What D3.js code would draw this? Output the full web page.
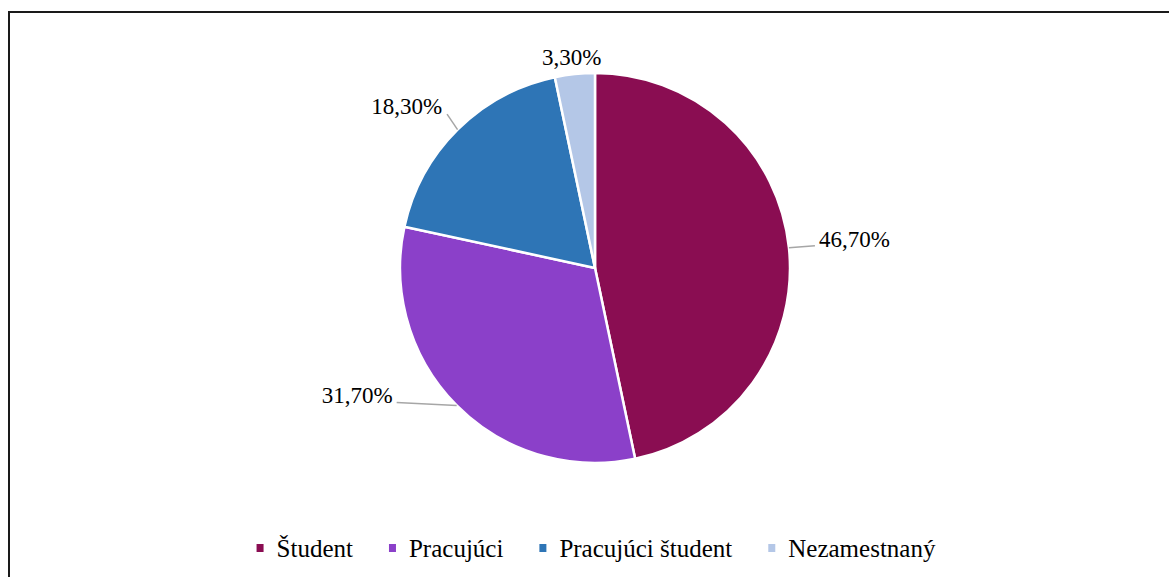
<!DOCTYPE html>
<html>
<head>
<meta charset="utf-8">
<script src="https://cdn.jsdelivr.net/npm/d3@7"></script>
<style>
  html, body { margin: 0; padding: 0; background: #fff; }
  svg { display: block; }
</style>
</head>
<body>
<div id="chart"></div>
<script>
var w = 1169,
	h = 577;

// data
var categories = ["Študent", "Pracujúci", "Pracujúci študent", "Nezamestnaný"];
var values = [46.7, 31.7, 18.3, 3.3];
var labels = ["46,70%", "31,70%", "18,30%", "3,30%"];
var colors = ["#8a0d52", "#8b40c9", "#2e75b6", "#b4c7e7"];

// label placement (offset of leader end from slice edge, text offset from leader end)
var leaderOffsets = [[26, -2], [-60, -3], [-10.5, -15.5], [0, 0]];
var textOffsets = [[4, 1], [-4, 1], [-5, 0], [-3, -9]];
var textAnchors = ["start", "end", "end", "middle"];
var showLeader = [true, true, true, false];

var fontFamily = "Liberation Serif, DejaVu Serif, Noto Serif, Tinos, FreeSerif, Times, serif";

var cx = 595,
	cy = 268,
	radius = 195;

var svg = d3.select("#chart").append("svg")
	.attr("width", w)
	.attr("height", h)
	.style("font-family", fontFamily);

// outer frame (only top and left edges visible in the crop)
svg.append("rect")
	.attr("x", 9)
	.attr("y", 12)
	.attr("width", w + 20)
	.attr("height", h + 20)
	.attr("fill", "none")
	.attr("stroke", "#1a1a1a")
	.attr("stroke-width", 2);

var pie = d3.pie().sort(null).value(function(d) { return d; });
var arcs = pie(values);

var arc = d3.arc().innerRadius(0).outerRadius(radius);

var g = svg.append("g").attr("transform", "translate(" + cx + "," + cy + ")");

g.selectAll(".slice")
	.data(arcs)
	.enter().append("path")
	.attr("class", "slice")
	.attr("d", arc)
	.attr("fill", function(d, i) { return colors[i]; })
	.attr("stroke", "#fff")
	.attr("stroke-width", 2.5)
	.attr("stroke-linejoin", "round");

function edgePoint(d) {
	var a = (d.startAngle + d.endAngle) / 2;
	return [radius * Math.sin(a), -radius * Math.cos(a)];
}

arcs.forEach(function(d, i) {
	var p = edgePoint(d);
	var q = [p[0] + leaderOffsets[i][0], p[1] + leaderOffsets[i][1]];
	if (showLeader[i]) {
		g.append("line")
			.attr("x1", p[0]).attr("y1", p[1])
			.attr("x2", q[0]).attr("y2", q[1])
			.attr("stroke", "#a6a6a6")
			.attr("stroke-width", 1.5);
	}
	g.append("text")
		.attr("x", q[0] + textOffsets[i][0])
		.attr("y", q[1] + textOffsets[i][1])
		.attr("text-anchor", textAnchors[i])
		.style("font-family", fontFamily)
		.style("font-size", "23px")
		.attr("fill", "#000")
		.text(labels[i]);
});

// legend
var legend = svg.append("g");
var legendY = 557,
	markerSize = 7,
	markerGap = 13,
	itemGap = 36;

var items = legend.selectAll(".item")
	.data(categories)
	.enter().append("g")
	.attr("class", "item");

items.append("rect")
	.attr("width", markerSize)
	.attr("height", markerSize + 1)
	.attr("y", legendY - 13)
	.attr("fill", function(d, i) { return colors[i]; });

items.append("text")
	.attr("x", markerSize + markerGap)
	.attr("y", legendY)
	.style("font-family", fontFamily)
	.style("font-size", "25px")
	.attr("fill", "#000")
	.text(function(d) { return d; });

var xpos = 0;
items.each(function() {
	var item = d3.select(this);
	var tw = item.select("text").node().getComputedTextLength();
	item.attr("transform", "translate(" + xpos + ",0)");
	xpos += markerSize + markerGap + tw + itemGap;
});
var totalW = xpos - itemGap;
legend.attr("transform", "translate(" + (cx + 1 - totalW / 2) + ",0)");
</script>
</body>
</html>
